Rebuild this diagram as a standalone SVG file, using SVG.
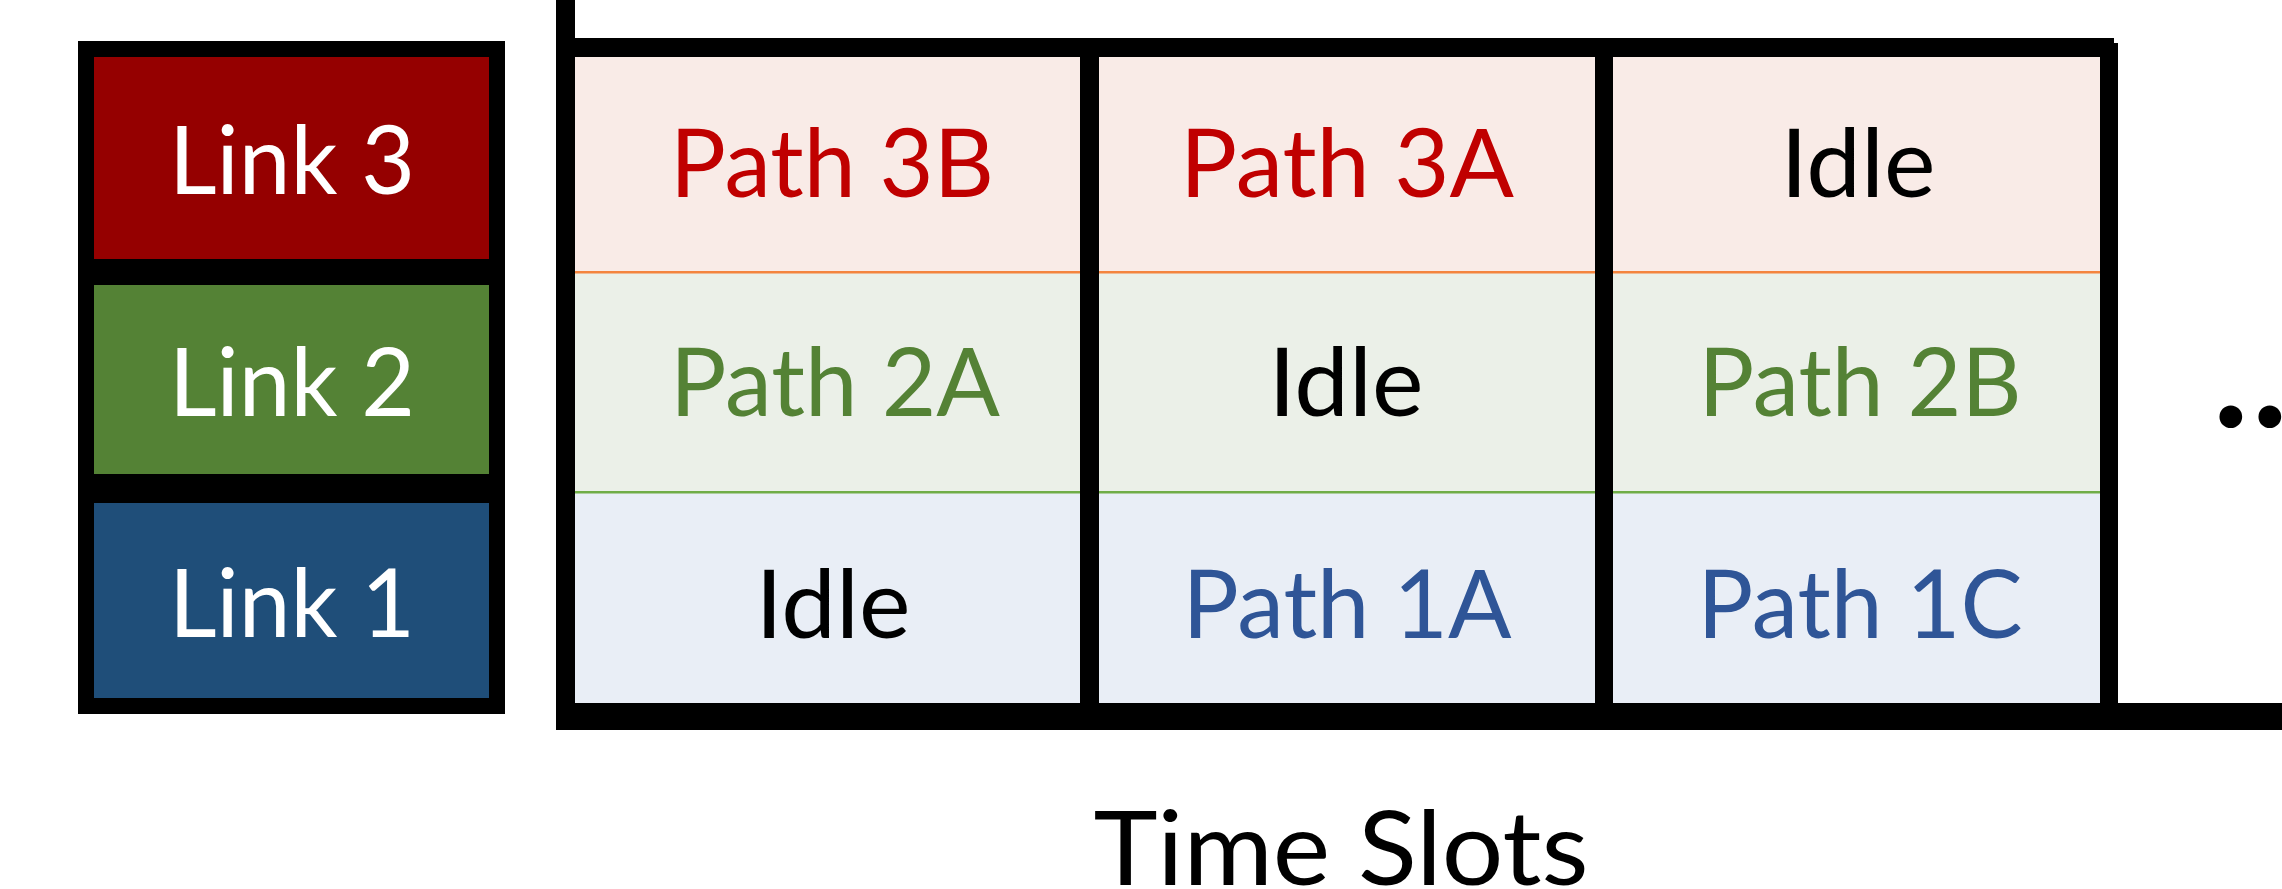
<svg xmlns="http://www.w3.org/2000/svg" width="2282" height="889" viewBox="0 0 2282 889">
  <style>
    .t { font-family: Lato, "Liberation Sans", sans-serif; font-size: 95px; text-anchor: middle; }
    .w { fill: #FFFFFF; }
    .k { fill: #000000; }
    .r { fill: #C00000; }
    .g { fill: #548235; }
    .b { fill: #2F5597; }
    .pink { fill: #F9EBE7; }
    .lgreen { fill: #EBF0E8; }
    .lblue { fill: #E9EEF6; }
    .bar { fill: #000000; }
  </style>
  <rect width="2282" height="889" fill="#FFFFFF"/>

  <g id="links">
    <rect x="78" y="41" width="427" height="673" fill="#000000"/>
    <g id="link3">
      <rect x="94" y="57" width="395" height="202" fill="#950000"/>
      <text class="t w" x="292" y="194" textLength="246" lengthAdjust="spacingAndGlyphs">Link 3</text>
    </g>
    <g id="link2">
      <rect x="94" y="285" width="395" height="189" fill="#548235"/>
      <text class="t w" x="292" y="416" textLength="246" lengthAdjust="spacingAndGlyphs">Link 2</text>
    </g>
    <g id="link1">
      <rect x="94" y="503" width="395" height="195" fill="#1F4E79"/>
      <text class="t w" x="292" y="637" textLength="246" lengthAdjust="spacingAndGlyphs">Link 1</text>
    </g>
  </g>

  <g id="cells">
    <!-- column 1 -->
    <g id="c1r3">
      <rect class="pink" x="575" y="57" width="505" height="215"/>
      <text class="t r" x="832" y="197" textLength="324" lengthAdjust="spacingAndGlyphs">Path 3B</text>
    </g>
    <g id="c1r2">
      <rect class="lgreen" x="575" y="272" width="505" height="220"/>
      <text class="t g" x="835" y="416" textLength="330" lengthAdjust="spacingAndGlyphs">Path 2A</text>
    </g>
    <g id="c1r1">
      <rect class="lblue" x="575" y="492" width="505" height="211"/>
      <text class="t k" x="833" y="638" textLength="155" lengthAdjust="spacingAndGlyphs">Idle</text>
    </g>
    <!-- column 2 -->
    <g id="c2r3">
      <rect class="pink" x="1099" y="57" width="496" height="215"/>
      <text class="t r" x="1347" y="197" textLength="334" lengthAdjust="spacingAndGlyphs">Path 3A</text>
    </g>
    <g id="c2r2">
      <rect class="lgreen" x="1099" y="272" width="496" height="220"/>
      <text class="t k" x="1346" y="416" textLength="155" lengthAdjust="spacingAndGlyphs">Idle</text>
    </g>
    <g id="c2r1">
      <rect class="lblue" x="1099" y="492" width="496" height="211"/>
      <text class="t b" x="1347" y="638" textLength="329" lengthAdjust="spacingAndGlyphs">Path 1A</text>
    </g>
    <!-- column 3 -->
    <g id="c3r3">
      <rect class="pink" x="1613" y="57" width="487" height="215"/>
      <text class="t k" x="1858" y="197" textLength="155" lengthAdjust="spacingAndGlyphs">Idle</text>
    </g>
    <g id="c3r2">
      <rect class="lgreen" x="1613" y="272" width="487" height="220"/>
      <text class="t g" x="1860" y="416" textLength="323" lengthAdjust="spacingAndGlyphs">Path 2B</text>
    </g>
    <g id="c3r1">
      <rect class="lblue" x="1613" y="492" width="487" height="211"/>
      <text class="t b" x="1860" y="638" textLength="325" lengthAdjust="spacingAndGlyphs">Path 1C</text>
    </g>
  </g>

  <g id="connectors">
    <!-- row dividers -->
    <rect x="575" y="271" width="1525" height="2.5" fill="#F4843E"/>
    <rect x="575" y="491" width="1525" height="2.5" fill="#70AD47"/>
    <!-- axes and grid bars -->
    <rect class="bar" x="556" y="0" width="19" height="730"/>
    <rect class="bar" x="556" y="38" width="1558" height="19"/>
    <rect class="bar" x="2100" y="43" width="18" height="665"/>
    <rect class="bar" x="1080" y="56" width="19" height="650"/>
    <rect class="bar" x="1595" y="56" width="18" height="650"/>
    <rect class="bar" x="556" y="703" width="1726" height="27"/>
  </g>

  <g id="labels">
    <text x="1341" y="885" font-family="Lato, 'Liberation Sans', sans-serif" font-size="103" text-anchor="middle" fill="#000000" textLength="495" lengthAdjust="spacingAndGlyphs">Time Slots</text>
    <text x="2213 2252 2291" y="427" font-family="Lato, 'Liberation Sans', sans-serif" font-weight="bold" font-size="150" fill="#000000">...</text>
  </g>
</svg>
